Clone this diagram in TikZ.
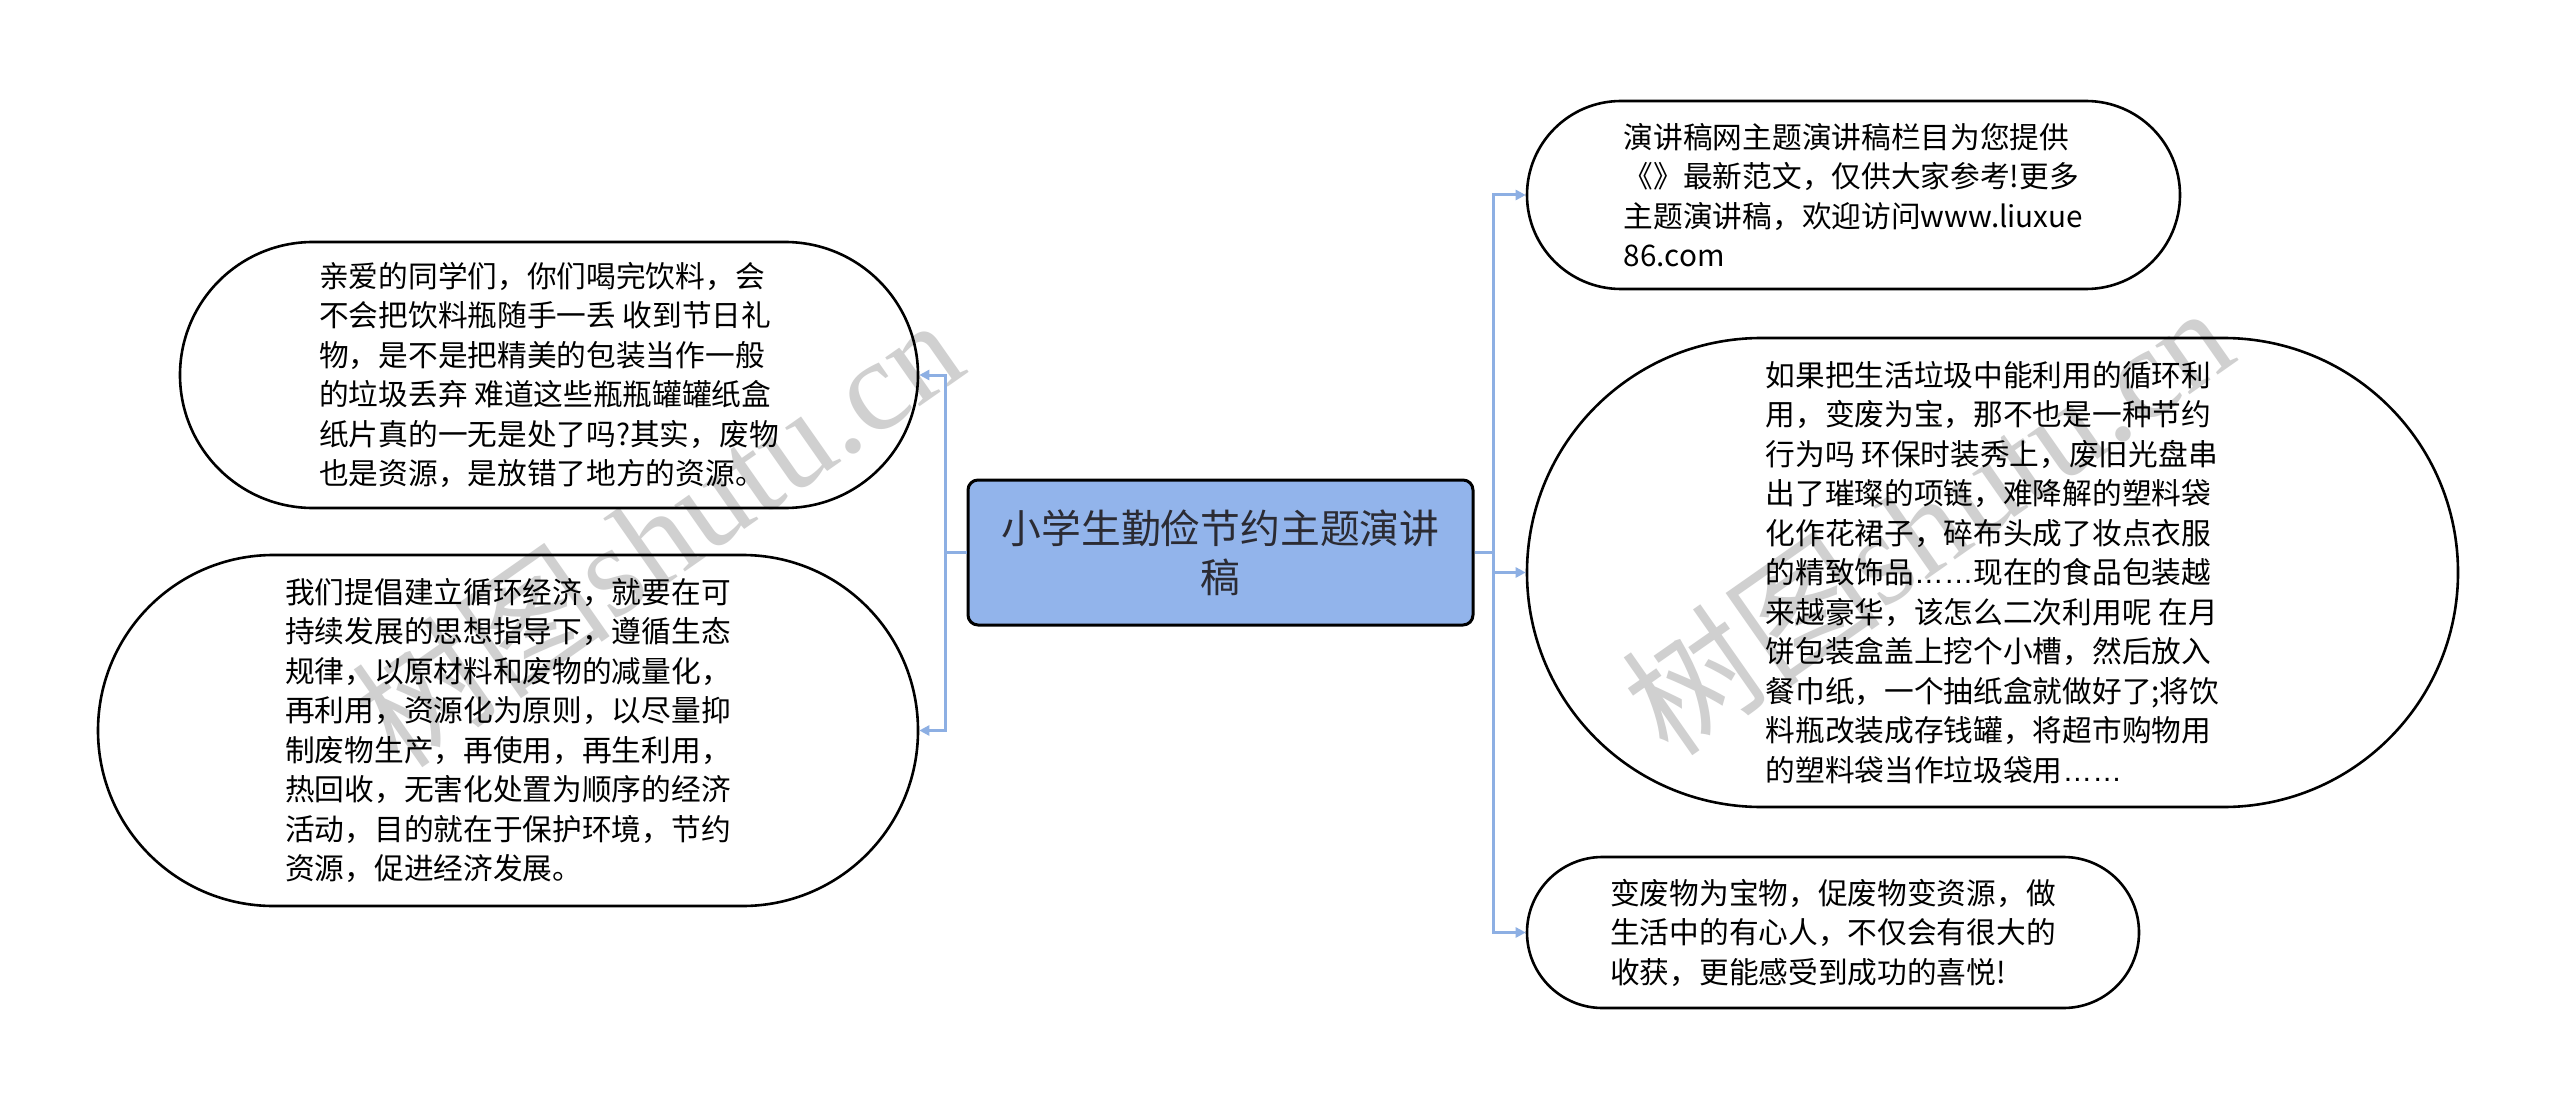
\documentclass[tikz,border=0pt]{standalone}
\usepackage{fontspec}
\setmainfont{Noto Sans CJK SC}
\newfontfamily\wmlat{Liberation Serif}
\newfontfamily\wmcjk{Noto Sans CJK SC}
\newfontfamily\latsans{Liberation Sans}
\usetikzlibrary{arrows.meta}
\definecolor{connc}{HTML}{8DAFE3}
\definecolor{mainfill}{HTML}{92B4EB}
\definecolor{wmc}{HTML}{D0D0D0}
\definecolor{maintext}{HTML}{2B2B33}
\newcommand{\myell}{{\latsans ……}}
\begin{document}
\begin{tikzpicture}[x=0.5pt,y=-0.5pt,
  leaf/.style={draw=black, line width=1.3pt, align=left, text=black,
    font=\fontsize{14.85pt}{19.75pt}\selectfont, inner sep=0pt},
  link/.style={draw=connc, line width=1.5pt, -{Triangle[length=5pt,width=5pt]}},
  wmark/.style={text=wmc, rotate=35, inner sep=0pt, font=\fontsize{65pt}{65pt}\selectfont}]
\fill[white] (0,0) rectangle (2560,1107);
\useasboundingbox (0,0) rectangle (2560,1107);

% watermarks
\node[wmark] (w1) at (657,531) {\wmcjk 树图\wmlat shutu.cn};
\node[wmark] (w2) at (1927,519) {\wmcjk 树图\wmlat shutu.cn};

% central topic
\node[draw=black, line width=1.5pt, fill=mainfill, rounded corners=5pt,
  minimum width=252.5pt, minimum height=72.5pt, align=center, text=maintext,
  font=\fontsize{19.9pt}{24.5pt}\selectfont] (c) at (1220.5,552.5)
  {小学生勤俭节约主题演讲\\稿};

% left nodes
\node[leaf, minimum width=369pt, minimum height=133pt, rounded corners=66.5pt] (l1) at (549,375) {亲爱的同学们，你们喝完饮料，会\\
不会把饮料瓶随手一丢 收到节日礼\\
物，是不是把精美的包装当作一般\\
的垃圾丢弃 难道这些瓶瓶罐罐纸盒\\
纸片真的一无是处了吗?其实，废物\\
也是资源，是放错了地方的资源。};

\node[leaf, minimum width=410pt, minimum height=175.5pt, rounded corners=87.75pt] (l2) at (508,730.5) {我们提倡建立循环经济，就要在可\\
持续发展的思想指导下，遵循生态\\
规律，以原材料和废物的减量化，\\
再利用，资源化为原则，以尽量抑\\
制废物生产，再使用，再生利用，\\
热回收，无害化处置为顺序的经济\\
活动，目的就在于保护环境，节约\\
资源，促进经济发展。};

% right nodes
\node[leaf, minimum width=326.5pt, minimum height=94pt, rounded corners=47pt] (r1) at (1853.5,195) {演讲稿网主题演讲稿栏目为您提供\\
《》最新范文，仅供大家参考!更多\\
主题演讲稿，欢迎访问www.liuxue\\
86.com};

\node[leaf, minimum width=465.5pt, minimum height=234.5pt, rounded corners=117.25pt] (r2) at (1992.5,572.5) {如果把生活垃圾中能利用的循环利\\
用，变废为宝，那不也是一种节约\\
行为吗 环保时装秀上，废旧光盘串\\
出了璀璨的项链，难降解的塑料袋\\
化作花裙子，碎布头成了妆点衣服\\
的精致饰品\myell 现在的食品包装越\\
来越豪华，该怎么二次利用呢 在月\\
饼包装盒盖上挖个小槽，然后放入\\
餐巾纸，一个抽纸盒就做好了;将饮\\
料瓶改装成存钱罐，将超市购物用\\
的塑料袋当作垃圾袋用\myell};

\node[leaf, minimum width=306pt, minimum height=75.5pt, rounded corners=37.75pt] (r3) at (1833,932.5) {变废物为宝物，促废物变资源，做\\
生活中的有心人，不仅会有很大的\\
收获，更能感受到成功的喜悦!};

% connectors
\draw[link] (c.west) -- ++(-21,0) |- (l1.east);
\draw[link] (c.west) -- ++(-21,0) |- (l2.east);
\draw[link] (c.east) -- ++(19,0) |- (r1.west);
\draw[link] (c.east) -- ++(19,0) |- (r2.west);
\draw[link] (c.east) -- ++(19,0) |- (r3.west);
\end{tikzpicture}
\end{document}
